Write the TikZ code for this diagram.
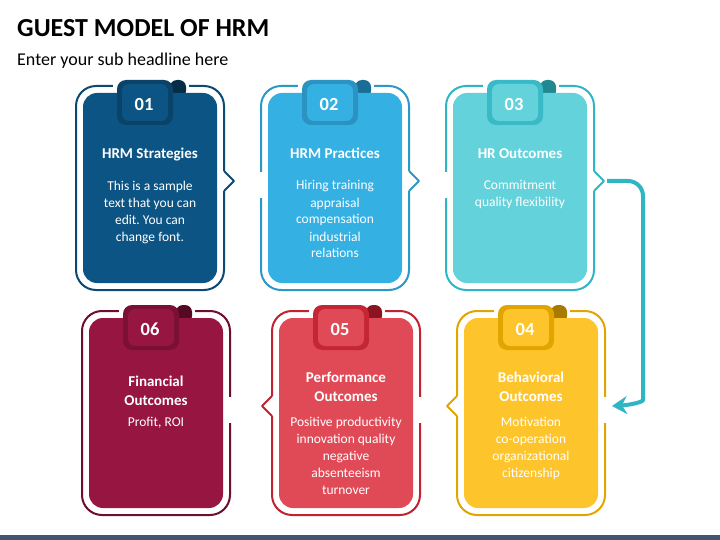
\documentclass[tikz,border=0pt]{standalone}
\usepackage{fontspec}
\setmainfont{Carlito}
\usetikzlibrary{arrows.meta}
\frenchspacing
\definecolor{cAfill}{HTML}{0C5483}\definecolor{cAline}{HTML}{0B4A73}\definecolor{cAbadge}{HTML}{0A4268}\definecolor{cAfold}{HTML}{062D47}
\definecolor{cBfill}{HTML}{35B0E3}\definecolor{cBline}{HTML}{2B98C8}\definecolor{cBbadge}{HTML}{2A93C2}\definecolor{cBfold}{HTML}{1A6E96}
\definecolor{cCfill}{HTML}{64D2DB}\definecolor{cCline}{HTML}{2EB6C5}\definecolor{cCbadge}{HTML}{3ABAC6}\definecolor{cCfold}{HTML}{1F8890}
\definecolor{cDfill}{HTML}{FEC42B}\definecolor{cDline}{HTML}{E2A400}\definecolor{cDbadge}{HTML}{E0A500}\definecolor{cDfold}{HTML}{A87A00}
\definecolor{cEfill}{HTML}{E04A57}\definecolor{cEline}{HTML}{C0222F}\definecolor{cEbadge}{HTML}{C52634}\definecolor{cEfold}{HTML}{8A1520}
\definecolor{cFfill}{HTML}{961541}\definecolor{cFline}{HTML}{6E0E2F}\definecolor{cFbadge}{HTML}{7A1035}\definecolor{cFfold}{HTML}{560A22}
\definecolor{barcol}{HTML}{44546A}
\newcommand\hrmcard[8]{%
  \node[cardline, draw=#5] (#1o) at (#2, #3+95) {};
  \fill[white] (#2-37, #3-10) rectangle (#2+39, #3-4);
  \fill[#7, rounded corners=7pt] (#2+20, #3-13) rectangle (#2+36, #3+5);
  \node[cardfill, fill=#4] (#1) at (#2, #3+95) {};
  \node[badgeout, fill=#6] (#1b) at (#2-5, #3+9.5) {};
  \node[badgein, fill=#4] (#1i) at (#2-5, #3+9.5) {};
  \node[numtext] (#1n) at (#2-6, #3+11) {#8};
}
\begin{document}
\begin{tikzpicture}[x=1pt, y=-1pt,
  cardline/.style={rectangle, minimum width=148pt, minimum height=204pt, rounded corners=20pt, line width=2pt, inner sep=0pt, outer sep=0pt},
  cardfill/.style={rectangle, minimum width=134pt, minimum height=190pt, rounded corners=14pt, inner sep=0pt, outer sep=0pt},
  badgeout/.style={rectangle, minimum width=56pt, minimum height=45pt, rounded corners=9pt, inner sep=0pt},
  badgein/.style={rectangle, minimum width=46pt, minimum height=37pt, rounded corners=7pt, inner sep=0pt},
  numtext/.style={font=\fontsize{18.5}{20}\selectfont\bfseries, text=white, inner sep=0pt},
  ttl/.style={font=\fontsize{15}{19}\selectfont\bfseries, text=white, align=center, inner sep=0pt, anchor=base},
  bodytext/.style={font=\fontsize{13.5}{17}\selectfont, text=white, align=center, inner sep=0pt, anchor=base},
  notchline/.style={line width=2pt, line join=round},
  flow/.style={draw=cCline, line width=4pt, rounded corners=15pt, -{Stealth[length=15pt,width=18pt,inset=5pt]}}
]
\useasboundingbox (0,0) rectangle (720,540);
% headings
\node[anchor=base west, inner sep=0pt, font=\fontsize{26}{30}\selectfont\bfseries] (head) at (17,37) {GUEST MODEL OF HRM};
\node[anchor=base west, inner sep=0pt, font=\fontsize{18}{22}\selectfont] (sub) at (17,66) {Enter your sub headline here};
% cards
\hrmcard{k1}{150}{93}{cAfill}{cAline}{cAbadge}{cAfold}{01}
\hrmcard{k2}{335}{93}{cBfill}{cBline}{cBbadge}{cBfold}{02}
\hrmcard{k3}{520}{93}{cCfill}{cCline}{cCbadge}{cCfold}{03}
\hrmcard{k6}{156}{318}{cFfill}{cFline}{cFbadge}{cFfold}{06}
\hrmcard{k5}{346}{318}{cEfill}{cEline}{cEbadge}{cEfold}{05}
\hrmcard{k4}{531}{318}{cDfill}{cDline}{cDbadge}{cDfold}{04}
% side gaps and notches (top row)
\fill[white] (221,171) rectangle (227,191);
\draw[notchline, draw=cAline] (224,171) -- (234,181) -- (224,191);
\fill[white] (258,172) rectangle (264,198);
\fill[white] (406,171) rectangle (412,191);
\draw[notchline, draw=cBline] (409,171) -- (419,181) -- (409,191);
\fill[white] (443,172) rectangle (449,198);
\fill[white] (591,171) rectangle (597,191);
\draw[notchline, draw=cCline] (594,171) -- (604,181) -- (594,191);
% side gaps and notches (bottom row)
\fill[white] (227,397) rectangle (233,423);
\fill[white] (269,396) rectangle (275,416);
\draw[notchline, draw=cEline] (272,396) -- (262,406) -- (272,416);
\fill[white] (417,397) rectangle (423,423);
\fill[white] (454,396) rectangle (460,416);
\draw[notchline, draw=cDline] (457,396) -- (447,406) -- (457,416);
\fill[white] (602,397) rectangle (608,423);
% connector
\coordinate (a3) at (607,181);
\coordinate (b4) at (612,406);
\draw[flow] (a3) -| (643,385) .. controls (643,402) and (630,405) .. (b4);
% texts top row (base anchor = last line baseline)
\node[ttl] (t1) at (150,159) {HRM Strategies};
\node[bodytext] (d1) at (150,241) {This is a sample\\text that you can\\edit. You can\\change font.};
\node[ttl] (t2) at (335,159) {HRM Practices};
\node[bodytext] (d2) at (335,258) {Hiring training\\appraisal\\compensation\\industrial\\relations};
\node[ttl] (t3) at (520,159) {HR Outcomes};
\node[bodytext] (d3) at (520,207) {Commitment\\quality flexibility};
% texts bottom row
\node[ttl] (t6) at (156,405) {Financial\\Outcomes};
\node[bodytext] (d6) at (156,426) {Profit, ROI};
\node[ttl] (t5) at (346,401) {Performance\\Outcomes};
\node[bodytext] (d5) at (346,494) {Positive productivity\\innovation quality\\negative\\absenteeism\\turnover};
\node[ttl] (t4) at (531,401) {Behavioral\\Outcomes};
\node[bodytext] (d4) at (531,477) {Motivation\\co-operation\\organizational\\citizenship};
% bottom bar
\fill[barcol] (0,535) rectangle (720,540);
\end{tikzpicture}
\end{document}
